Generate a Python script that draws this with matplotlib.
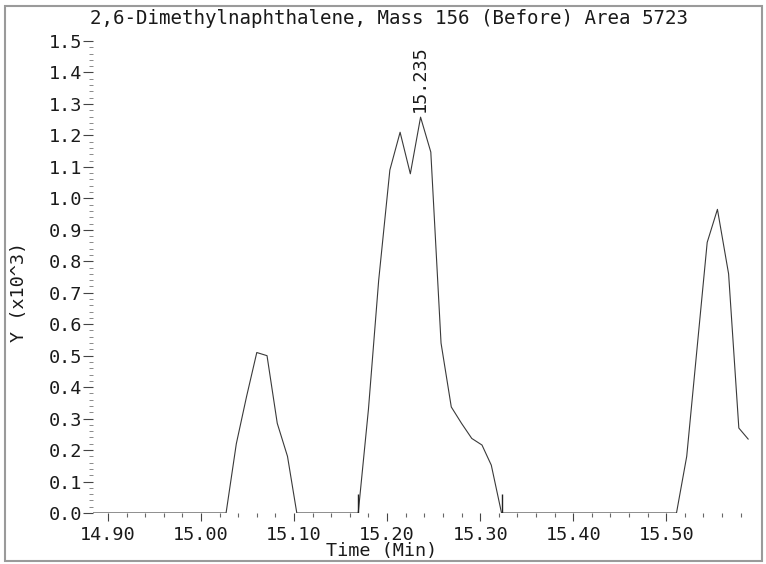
# Chromatogram: 2,6-Dimethylnaphthalene, Mass 156 (Before)

import matplotlib
matplotlib.use("Agg")
import matplotlib.pyplot as plt
from matplotlib.patches import Rectangle
from matplotlib.ticker import MultipleLocator

# Data (time in min, response in x10^3)
times = [14.884, 15.027, 15.038, 15.049, 15.060, 15.071, 15.082, 15.093, 15.103,
         15.169, 15.180, 15.191, 15.203, 15.214, 15.225, 15.236, 15.247, 15.258,
         15.269, 15.280, 15.291, 15.302, 15.312, 15.323,
         15.511, 15.522, 15.533, 15.544, 15.555, 15.567, 15.578, 15.588]
response = [0.0, 0.0, 0.22, 0.37, 0.51, 0.50, 0.285, 0.18, 0.0,
            0.0, 0.33, 0.74, 1.09, 1.21, 1.078, 1.258, 1.147, 0.54,
            0.337, 0.285, 0.237, 0.216, 0.152, 0.0,
            0.0, 0.18, 0.52, 0.86, 0.965, 0.76, 0.27, 0.235]

# Integration markers and peak label
marker_times = [15.169, 15.323]
marker_height = 0.06
peak_time = 15.235
peak_value = 1.258

W, H = 766, 564
FS = 13.3
TXT = '#1a1a1a'
plt.rcParams['font.family'] = ['DejaVu Sans Mono']
fig = plt.figure(figsize=(W / 100, H / 100), dpi=100)

# Outer gray frame
fig.patches.append(Rectangle((5 / W, 3 / H), 757 / W, 555 / H, transform=fig.transFigure,
                             fill=False, edgecolor='#9a9a9a', linewidth=1.5))

ax = fig.add_axes([93 / W, 51 / H, 657 / W, 472 / H])
ax.plot(times, response, color='#3a3a3a', linewidth=0.8)
ax.vlines(marker_times, 0, marker_height, color='#222222', linewidth=1.0)

ax.set_xlim(14.884, 15.590)
ax.set_ylim(0, 1.5)

for s in ax.spines.values():
    s.set_visible(False)

ax.xaxis.set_major_locator(MultipleLocator(0.1))
ax.xaxis.set_minor_locator(MultipleLocator(0.02))
ax.yaxis.set_major_locator(MultipleLocator(0.1))
ax.yaxis.set_minor_locator(MultipleLocator(0.02))
ax.xaxis.set_major_formatter(plt.FuncFormatter(lambda v, p: f"{v:.2f}"))
ax.yaxis.set_major_formatter(plt.FuncFormatter(lambda v, p: f"{v:.1f}"))

ax.tick_params(axis='x', which='major', direction='out', length=5.5, width=0.8,
               color='#444444', labelsize=FS, labelcolor=TXT, pad=3.5)
ax.tick_params(axis='x', which='minor', direction='out', length=3, width=0.8,
               color='#666666')
ax.tick_params(axis='y', which='major', direction='out', length=7, width=0.8,
               color='#444444', labelsize=FS, labelcolor=TXT, pad=1)
ax.tick_params(axis='y', which='minor', direction='out', length=3, width=0.6,
               color='#777777')

fig.text(382 / W, 1 - 551 / H, "Time (Min)", fontsize=FS, color=TXT,
         ha='center', va='center')
fig.text(19 / W, 1 - 292 / H, "Y (x10^3)", rotation=90, fontsize=FS, color=TXT,
         ha='center', va='center')
fig.text(389 / W, 1 - 18 / H, "2,6-Dimethylnaphthalene, Mass 156 (Before) Area 5723",
         fontsize=13.8, color=TXT, ha='center', va='center')

ax.annotate(f"{peak_time:.3f}", xy=(peak_time, peak_value), xytext=(0, 4),
            textcoords='offset points', rotation=90, fontsize=FS, color=TXT,
            ha='center', va='bottom')

fig.savefig("out.png", dpi=100)
